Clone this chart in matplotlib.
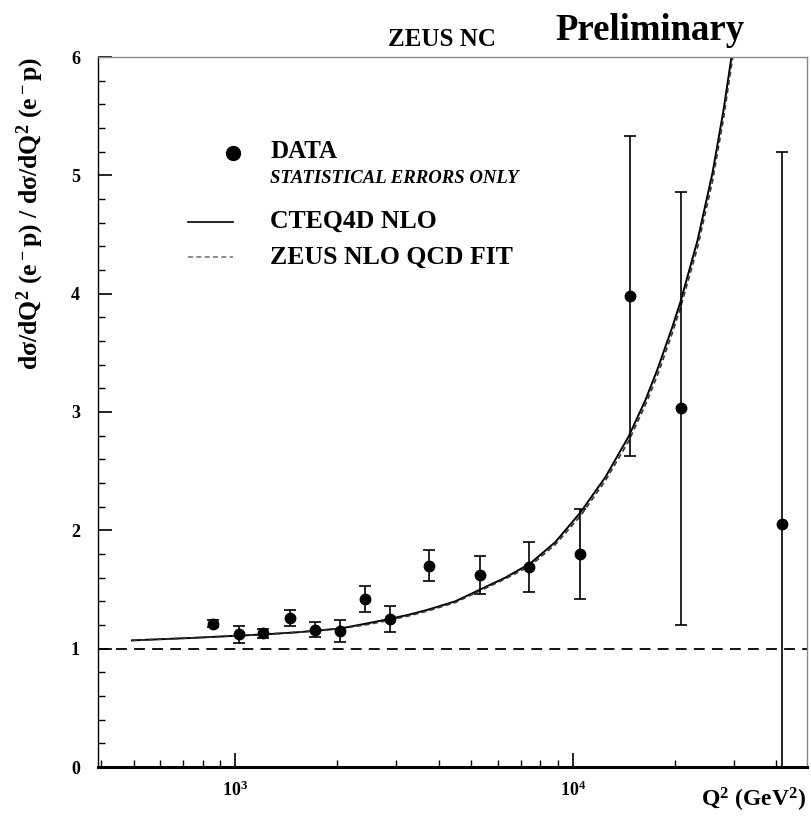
import numpy as np
import matplotlib
matplotlib.use("Agg")
import matplotlib.pyplot as plt
from matplotlib.ticker import MultipleLocator, LogLocator, NullFormatter, FixedLocator

plt.rcParams['font.family'] = ['Liberation Serif', 'DejaVu Serif']
plt.rcParams['font.weight'] = 'bold'
plt.rcParams['mathtext.fontset'] = 'custom'
plt.rcParams['mathtext.rm'] = 'Liberation Serif:bold'
plt.rcParams['mathtext.it'] = 'Liberation Serif:bold'
plt.rcParams['mathtext.bf'] = 'Liberation Serif:bold'

# データ点 (Q^2, 比, 統計誤差)
q2_data = [859, 1027, 1206, 1448, 1718, 2043, 2428, 2866, 3741, 5286, 7430,
           10520, 14790, 20830, 41700]
ratio_data = [1.21, 1.12, 1.13, 1.26, 1.16, 1.15, 1.42, 1.25, 1.70, 1.62, 1.69,
              1.80, 3.98, 3.03, 2.05]
err_data = [0.03, 0.07, 0.04, 0.07, 0.065, 0.09, 0.11, 0.11, 0.13, 0.16, 0.21,
            0.38, 1.35, 1.83, 3.15]

# 理論曲線 CTEQ4D NLO
q2_cteq = [494, 733, 1208, 1553, 2041, 2421, 2853, 3295, 3726, 4480, 5310, 6300,
           7470, 8860, 10510, 12470, 14590, 16380, 17780, 19690, 20800, 23370,
           25880, 27900, 29460, 31330]
ratio_cteq = [1.07, 1.09, 1.12, 1.14, 1.17, 1.21, 1.25, 1.29, 1.33, 1.40, 1.50, 1.60,
              1.72, 1.90, 2.15, 2.45, 2.79, 3.10, 3.36, 3.72, 3.93, 4.45,
              5.02, 5.55, 6.00, 6.50]

# ZEUS NLO QCD FIT
q2_zeus = q2_cteq
ratio_zeus = [1.07, 1.09, 1.12, 1.14, 1.17, 1.20, 1.24, 1.28, 1.32, 1.39, 1.49, 1.59,
              1.70, 1.88, 2.12, 2.42, 2.75, 3.06, 3.31, 3.67, 3.88, 4.39,
              4.95, 5.48, 5.93, 6.42]

fig = plt.figure(figsize=(8.12, 8.18), dpi=100)
ax = fig.add_axes([98 / 812, 1 - 767 / 818, (807 - 98) / 812, (767 - 57) / 818])

ax.plot(q2_cteq, ratio_cteq, color='black', lw=1.4, ls='-')
ax.plot(q2_zeus, ratio_zeus, color='#333333', lw=1.2, ls=(0, (3, 2)))
ax.axhline(1.0, color='black', lw=1.3, ls=(0, (6, 4)))
ax.errorbar(q2_data, ratio_data, yerr=err_data, fmt='o', color='black',
            ms=7.5, lw=1.2, capsize=4.5, capthick=1.2)

ax.set_xscale('log')
ax.set_xlim(392, 49300)
ax.set_ylim(0, 6)

ax.xaxis.set_major_locator(FixedLocator([1e3, 1e4]))
ax.xaxis.set_minor_locator(LogLocator(base=10, subs=np.arange(2, 10)))
ax.xaxis.set_minor_formatter(NullFormatter())
ax.set_xticklabels([r'$10^3$', r'$10^4$'], fontsize=14)
ax.yaxis.set_major_locator(MultipleLocator(1))
ax.yaxis.set_minor_locator(MultipleLocator(0.2))
ax.tick_params(axis='both', which='major', direction='in', length=10, width=1.2,
               labelsize=13, pad=10)
ax.tick_params(axis='both', which='minor', direction='in', length=5, width=1)
ax.tick_params(axis='y', which='major', pad=13)

for s in ['top', 'right']:
    ax.spines[s].set_color('#888888')
    ax.spines[s].set_linewidth(1)
ax.spines['left'].set_linewidth(1)
ax.spines['bottom'].set_linewidth(2.2)

# 凡例
tr = ax.transAxes
ax.plot([0.190], [0.865], 'o', color='black', ms=10, transform=tr)
ax.text(0.243, 0.867, 'DATA', fontsize=18, va='center', transform=tr)
ax.text(0.243, 0.829, 'STATISTICAL ERRORS ONLY', fontsize=13.5, va='center',
        style='italic', transform=tr)
ax.plot([0.127, 0.190], [0.768, 0.768], color='black', lw=1.2, transform=tr)
ax.text(0.243, 0.768, 'CTEQ4D NLO', fontsize=18.5, va='center', transform=tr)
ax.plot([0.127, 0.190], [0.718, 0.718], color='#777777', lw=1.2,
        ls=(0, (3, 2)), transform=tr)
ax.text(0.243, 0.718, 'ZEUS NLO QCD FIT', fontsize=18.5, va='center', transform=tr)

fig.text(442 / 812, 1 - 40 / 818, 'ZEUS NC', fontsize=18, ha='center', va='center')
fig.text(650 / 812, 1 - 31 / 818, 'Preliminary', fontsize=26.5, ha='center', va='center')
fig.text(806 / 812, 1 - 800 / 818, r'Q$^2$ (GeV$^2$)', fontsize=17, ha='right', va='center')
fig.text(30 / 812, 1 - 57 / 818, r'd$\sigma$/dQ$^2$ (e$^-$p) / d$\sigma$/dQ$^2$ (e$^-$p)',
         fontsize=18.5, rotation=90, ha='center', va='top')

plt.savefig("out.png", dpi=100)
